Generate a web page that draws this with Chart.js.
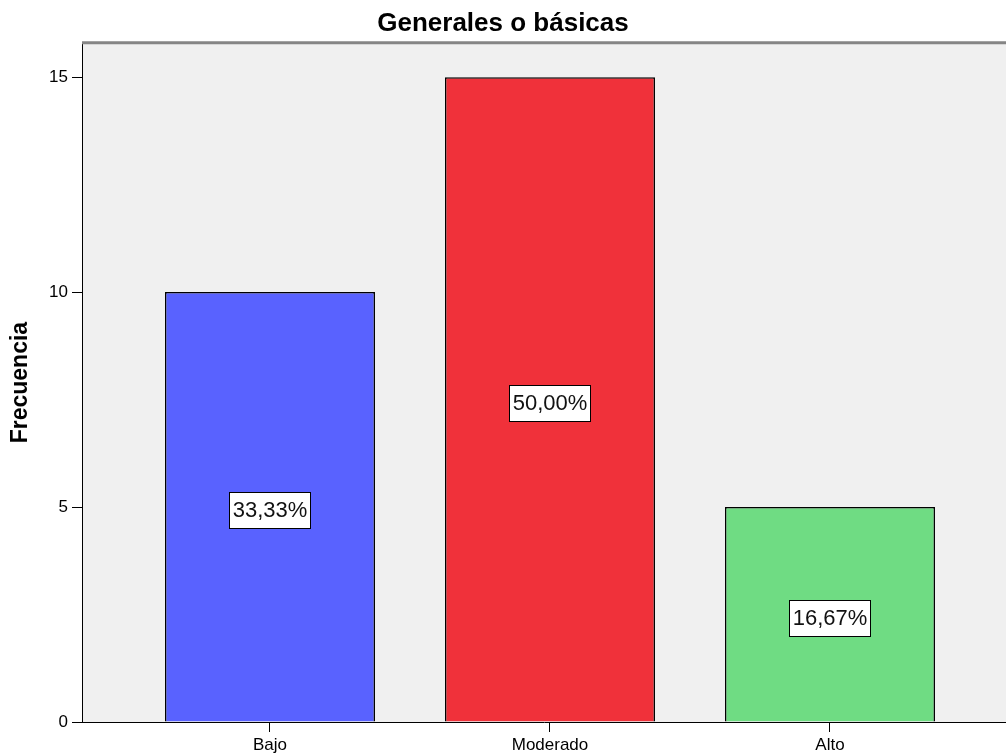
<!DOCTYPE html>
<html>
<head>
<meta charset="utf-8">
<script src="https://cdn.jsdelivr.net/npm/chart.js@4.4.1/dist/chart.umd.min.js"></script>
<style>
  html, body { margin: 0; padding: 0; background: #ffffff; overflow: hidden; }
  #wrap { width: 1006px; height: 756px; }
</style>
</head>
<body>
<div id="wrap"><canvas id="c" width="1006" height="756"></canvas></div>
<script>
// Frequency of each level
const categories = ['Bajo', 'Moderado', 'Alto'];
const frequencies = [10, 15, 5];
const percentLabels = ['33,33%', '50,00%', '16,67%'];
const yTicks = [0, 5, 10, 15];
const barColors = ['rgb(89,98,255)', 'rgb(240,49,58)', 'rgb(111,220,131)'];

const points = categories.map((c, i) => ({ x: i, y: frequencies[i] }));

// Percentage boxes at mid-height of each bar
const percentBoxes = {
  id: 'percentBoxes',
  afterDatasetsDraw(chart) {
    const ctx = chart.ctx;
    const xs = chart.scales.x, ys = chart.scales.y;
    ctx.save();
    ctx.font = '22px "Liberation Sans", Arial, sans-serif';
    ctx.textAlign = 'center';
    ctx.textBaseline = 'middle';
    points.forEach((p, i) => {
      const cx = xs.getPixelForValue(p.x);
      const cy = ys.getPixelForValue(p.y / 2) + 3;
      const w = Math.round(ctx.measureText(percentLabels[i]).width + 6);
      const h = 36;
      const bx = Math.round(cx - w / 2) + 0.5, by = Math.round(cy - h / 2) + 0.5;
      ctx.fillStyle = '#ffffff';
      ctx.fillRect(bx, by, w, h);
      ctx.strokeStyle = '#000000';
      ctx.lineWidth = 1;
      ctx.strokeRect(bx, by, w, h);
      ctx.fillStyle = '#111111';
      ctx.fillText(percentLabels[i], cx, cy + 1);
    });
    ctx.restore();
  },
  afterDraw(chart) {
    const a = chart.chartArea;
    const ctx = chart.ctx;
    ctx.save();
    ctx.strokeStyle = '#858585';
    ctx.lineWidth = 3;
    ctx.beginPath();
    ctx.moveTo(a.left, a.top - 0.5);
    ctx.lineTo(a.right, a.top - 0.5);
    ctx.stroke();
    ctx.restore();
  }
};

const plotBackground = {
  id: 'plotBackground',
  beforeDraw(chart) {
    const a = chart.chartArea;
    const ctx = chart.ctx;
    ctx.save();
    ctx.fillStyle = '#f0f0f0';
    ctx.fillRect(a.left, a.top, a.right - a.left, a.bottom - a.top);
    ctx.restore();
  }
};

new Chart(document.getElementById('c'), {
  type: 'bar',
  data: {
    datasets: [{
      data: points,
      backgroundColor: barColors,
      borderColor: '#000000',
      borderWidth: 1.5,
      borderSkipped: 'start',
      categoryPercentage: 1,
      barPercentage: 0.75
    }]
  },
  options: {
    responsive: false,
    animation: false,
    devicePixelRatio: 1,
    layout: { padding: { left: 0, right: 0, top: 0, bottom: 0 } },
    plugins: {
      legend: { display: false },
      tooltip: { enabled: false },
      title: {
        display: true,
        text: 'Generales o básicas',
        color: '#000000',
        font: { family: '"Liberation Sans", Arial, sans-serif', size: 26, weight: 'bold', lineHeight: 1.2 },
        padding: { top: 8, bottom: 4 }
      }
    },
    scales: {
      x: {
        type: 'linear',
        offset: false,
        min: -0.6714,
        max: 2.6286,
        afterBuildTicks(scale) { scale.ticks = categories.map((c, i) => ({ value: i })); },
        afterFit(scale) { scale.height = 34; },
        ticks: {
          color: '#000000',
          padding: 3,
          maxRotation: 0,
          autoSkip: false,
          font: { family: '"Liberation Sans", Arial, sans-serif', size: 17 },
          callback: (v) => categories[v]
        },
        grid: { offset: false, drawOnChartArea: false, drawTicks: true, tickLength: 10, color: '#000000', lineWidth: 1 },
        border: { display: true, color: '#000000', width: 1 }
      },
      y: {
        type: 'linear',
        min: 0,
        max: 15.79,
        afterBuildTicks(scale) { scale.ticks = yTicks.map(v => ({ value: v })); },
        afterFit(scale) { scale.width = 82; },
        ticks: {
          color: '#000000',
          padding: 4,
          font: { family: '"Liberation Sans", Arial, sans-serif', size: 17 }
        },
        grid: { drawOnChartArea: false, drawTicks: true, tickLength: 10, color: '#000000', lineWidth: 1 },
        border: { display: true, color: '#000000', width: 1 },
        title: {
          display: true,
          text: 'Frecuencia',
          color: '#000000',
          font: { family: '"Liberation Sans", Arial, sans-serif', size: 23, weight: 'bold', lineHeight: 1.2 },
          padding: { top: 7, bottom: 0 }
        }
      }
    }
  },
  plugins: [plotBackground, percentBoxes]
});
</script>
</body>
</html>
